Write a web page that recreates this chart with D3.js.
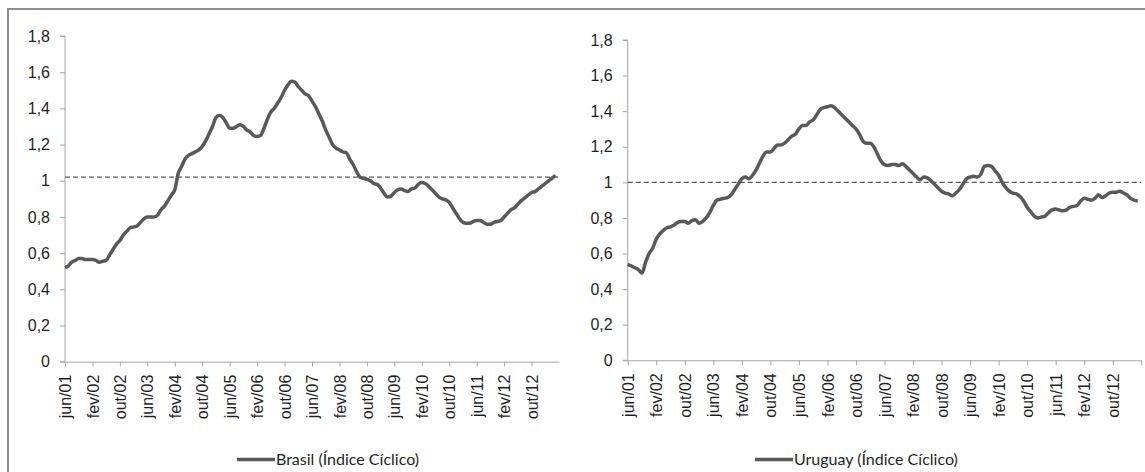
<!DOCTYPE html>
<html>
<head>
<meta charset="utf-8">
<script src="https://d3js.org/d3.v7.min.js"></script>
<style>
  body { margin: 0; background: #fff; }
  svg { display: block; font-family: Lato, "Open Sans", sans-serif; }
  .axis path, .axis line { stroke: #a6a6a6; }
  .axis text { fill: #1f1f1f; }
</style>
</head>
<body>
<div class="chart"></div>
<script>
// monthly cyclical index, jun/01 .. mai/13
var brasilValues = [
  0.52, 0.53, 0.55, 0.56, 0.57, 0.57, 0.565, 0.565, 0.565, 0.56, 0.55, 0.555,
  0.56, 0.59, 0.62, 0.65, 0.67, 0.70, 0.72, 0.74, 0.745, 0.75, 0.77, 0.79,
  0.80, 0.80, 0.80, 0.81, 0.84, 0.86, 0.89, 0.92, 0.95, 1.04, 1.08, 1.12,
  1.14, 1.15, 1.16, 1.17, 1.19, 1.22, 1.26, 1.30, 1.35, 1.36, 1.35, 1.32,
  1.29, 1.29, 1.30, 1.31, 1.30, 1.28, 1.27, 1.25, 1.245, 1.25, 1.29, 1.34,
  1.38, 1.40, 1.43, 1.46, 1.50, 1.53, 1.55, 1.545, 1.52, 1.50, 1.48, 1.47,
  1.44, 1.41, 1.37, 1.33, 1.28, 1.24, 1.20, 1.18, 1.17, 1.16, 1.155, 1.12,
  1.09, 1.05, 1.02, 1.013, 1.008, 1.00, 0.985, 0.98, 0.96, 0.93, 0.91, 0.915,
  0.935, 0.95, 0.955, 0.945, 0.94, 0.955, 0.96, 0.98, 0.99, 0.985, 0.97, 0.95,
  0.93, 0.91, 0.90, 0.895, 0.88, 0.85, 0.82, 0.79, 0.77, 0.765, 0.765, 0.775,
  0.78, 0.78, 0.77, 0.76, 0.76, 0.77, 0.775, 0.78, 0.80, 0.82, 0.84, 0.85,
  0.87, 0.89, 0.905, 0.92, 0.935, 0.94, 0.955, 0.97, 0.985, 1.00, 1.015, 1.03
];

var uruguayValues = [
  0.54, 0.53, 0.52, 0.51, 0.49, 0.55, 0.60, 0.63, 0.68, 0.71, 0.73, 0.745,
  0.75, 0.76, 0.775, 0.78, 0.78, 0.77, 0.785, 0.79, 0.77, 0.78, 0.80, 0.83,
  0.87, 0.90, 0.905, 0.91, 0.915, 0.93, 0.96, 0.99, 1.02, 1.03, 1.02, 1.04,
  1.07, 1.11, 1.15, 1.17, 1.17, 1.19, 1.21, 1.21, 1.22, 1.24, 1.26, 1.27,
  1.30, 1.32, 1.32, 1.34, 1.35, 1.38, 1.41, 1.42, 1.425, 1.43, 1.42, 1.40,
  1.38, 1.36, 1.34, 1.32, 1.30, 1.27, 1.23, 1.22, 1.22, 1.20, 1.16, 1.12,
  1.10, 1.095, 1.10, 1.10, 1.095, 1.105, 1.09, 1.07, 1.05, 1.03, 1.015, 1.03,
  1.025, 1.01, 0.99, 0.97, 0.95, 0.94, 0.935, 0.925, 0.94, 0.96, 0.99, 1.02,
  1.03, 1.035, 1.03, 1.045, 1.09, 1.095, 1.09, 1.065, 1.04, 1.00, 0.97, 0.95,
  0.94, 0.935, 0.92, 0.895, 0.86, 0.835, 0.81, 0.80, 0.805, 0.81, 0.83, 0.845,
  0.85, 0.845, 0.84, 0.845, 0.86, 0.865, 0.87, 0.895, 0.91, 0.905, 0.90, 0.91,
  0.93, 0.915, 0.925, 0.94, 0.945, 0.945, 0.95, 0.94, 0.93, 0.91, 0.90, 0.895
];

// one label every 8 months, starting jun/01
var tickLabels = ["jun/01", "fev/02", "out/02", "jun/03", "fev/04", "out/04",
  "jun/05", "fev/06", "out/06", "jun/07", "fev/08", "out/08", "jun/09",
  "fev/10", "out/10", "jun/11", "fev/12", "out/12"];
var yTicks = [0, 0.2, 0.4, 0.6, 0.8, 1, 1.2, 1.4, 1.6, 1.8];
var seriesNames = ["Brasil (Índice Cíclico)", "Uruguay (Índice Cíclico)"];
var refLevels = [1.02, 1.0];

var svgWidth = 1145;
var svgHeight = 472;

var svg = d3.select(".chart")
  .append("svg")
  .attr("width", svgWidth)
  .attr("height", svgHeight);

// outer frame (runs off the right and bottom edges)
svg.append("rect")
  .attr("x", 8)
  .attr("y", 9)
  .attr("width", 1160)
  .attr("height", 480)
  .attr("fill", "none")
  .attr("stroke", "#8e8e8e")
  .attr("stroke-width", 2);

var panels = [
  { values: brasilValues, name: seriesNames[0], ref: refLevels[0],
    x0: 65, x1: 559, yBottom: 361.7, yTop: 36, legendX: 237, endTick: false },
  { values: uruguayValues, name: seriesNames[1], ref: refLevels[1],
    x0: 627.7, x1: 1141.3, yBottom: 360.3, yTop: 40, legendX: 755, endTick: true }
];

var fmt = function (d) { return String(d).replace(".", ","); };

panels.forEach(function (p) {
  var x = d3.scaleLinear().domain([0, 144]).range([p.x0, p.x1]);
  var y = d3.scaleLinear().domain([0, 1.8]).range([p.yBottom, p.yTop]);

  var g = svg.append("g");

  // y axis
  var leftAxis = d3.axisLeft(y)
    .tickValues(yTicks)
    .tickFormat(fmt)
    .tickSize(5)
    .tickPadding(10);
  var yAxis = g.append("g")
    .attr("class", "axis")
    .attr("transform", `translate(${p.x0}, 0)`)
    .call(leftAxis);
  yAxis.select(".domain").attr("d", `M-5,${p.yBottom}H0V${p.yTop}H-5`);
  yAxis.selectAll("text").style("font-size", "16px");

  // x axis
  var tickVals = tickLabels.map(function (d, i) { return i * 8; });
  if (p.endTick) tickVals.push(144);
  var bottomAxis = d3.axisBottom(x)
    .tickValues(tickVals)
    .tickFormat(function (d) { return tickLabels[d / 8] || ""; })
    .tickSizeInner(5)
    .tickSizeOuter(0);
  var xAxis = g.append("g")
    .attr("class", "axis")
    .attr("transform", `translate(0, ${p.yBottom})`)
    .call(bottomAxis);
  xAxis.selectAll("text")
    .style("font-size", "16px")
    .attr("text-anchor", "end")
    .attr("transform", "rotate(-90)")
    .attr("x", -13)
    .attr("y", 0)
    .attr("dy", "0.35em");

  // reference dashed line
  g.append("line")
    .attr("x1", x(0))
    .attr("x2", x(144))
    .attr("y1", y(p.ref))
    .attr("y2", y(p.ref))
    .attr("stroke", "#595959")
    .attr("stroke-width", 1.2)
    .attr("stroke-dasharray", "5,3");

  // series line
  var line = d3.line()
    .x(function (d, i) { return x(i); })
    .y(function (d) { return y(d); })
    .curve(d3.curveMonotoneX);

  g.append("path")
    .datum(p.values)
    .attr("fill", "none")
    .attr("stroke", "#595959")
    .attr("stroke-width", 3.5)
    .attr("stroke-linejoin", "round")
    .attr("d", line);

  // legend
  var legend = g.append("g")
    .attr("transform", `translate(${p.legendX}, 459.5)`);
  legend.append("line")
    .attr("x1", 0)
    .attr("x2", 38)
    .attr("stroke", "#595959")
    .attr("stroke-width", 3.5);
  legend.append("text")
    .attr("x", 39)
    .attr("dy", "0.35em")
    .style("font-size", "16px")
    .attr("fill", "#1f1f1f")
    .text(p.name);
});
</script>
</body>
</html>
